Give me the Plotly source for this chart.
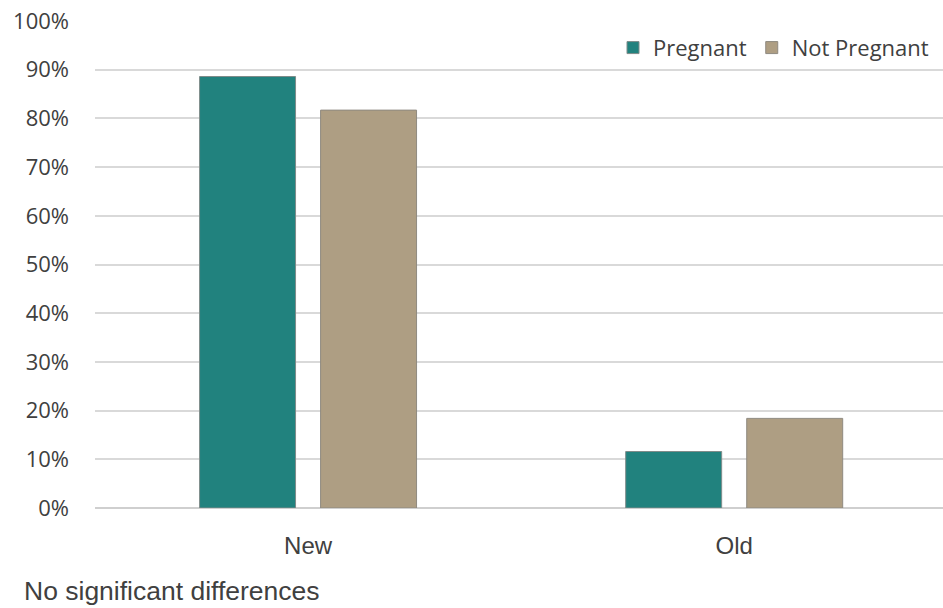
import plotly.graph_objects as go

categories = ["New", "Old"]
pregnant = [88.6, 11.6]
not_pregnant = [81.7, 18.4]
y_ticks = [0, 10, 20, 30, 40, 50, 60, 70, 80, 90, 100]
y_tick_labels = [f"{v}%" for v in y_ticks]

TEAL = "#21827E"
TAN = "#AE9E83"
TEXT = "#404040"
GRID = "#D9D9D9"

fig = go.Figure()
fig.add_trace(go.Bar(
    name="Pregnant", x=categories, y=pregnant,
    marker=dict(color=TEAL, line=dict(color="#7f8c8a", width=1)),
))
fig.add_trace(go.Bar(
    name="Not Pregnant", x=categories, y=not_pregnant,
    marker=dict(color=TAN, line=dict(color="#8f8a80", width=1)),
))

fig.add_annotation(
    text="No significant differences", xref="paper", yref="paper",
    x=-0.0855, y=-0.170, xanchor="left", yanchor="middle", showarrow=False,
    font=dict(family="Liberation Sans, Arial, sans-serif", size=26.5, color=TEXT),
)

fig.update_layout(
    width=943, height=608,
    margin=dict(l=95, r=0, t=21, b=100),
    paper_bgcolor="white", plot_bgcolor="white",
    barmode="group", bargap=0.432, bargroupgap=0.207,
    font=dict(family="Open Sans, sans-serif", size=22, color=TEXT),
    showlegend=True,
    legend=dict(
        orientation="h", x=0.9894, xanchor="right", y=0.945, yanchor="middle",
        bgcolor="rgba(0,0,0,0)", font=dict(size=22, color=TEXT),
        itemwidth=30, traceorder="normal",
    ),
    xaxis=dict(
        range=[-0.5, 1.49], showgrid=False, showline=False, zeroline=False,
        ticks="", ticklabelstandoff=21,
        tickfont=dict(family="Liberation Sans, Arial, sans-serif", size=24, color=TEXT),
    ),
    yaxis=dict(
        range=[0, 100], tickvals=y_ticks, ticktext=y_tick_labels,
        showgrid=True, gridcolor=GRID, gridwidth=1.5,
        zeroline=True, zerolinecolor="#CFCFCF", zerolinewidth=2,
        showline=False, ticks="", ticklabelstandoff=25,
        tickfont=dict(size=22, color=TEXT),
    ),
)

fig.write_html("out.html")
